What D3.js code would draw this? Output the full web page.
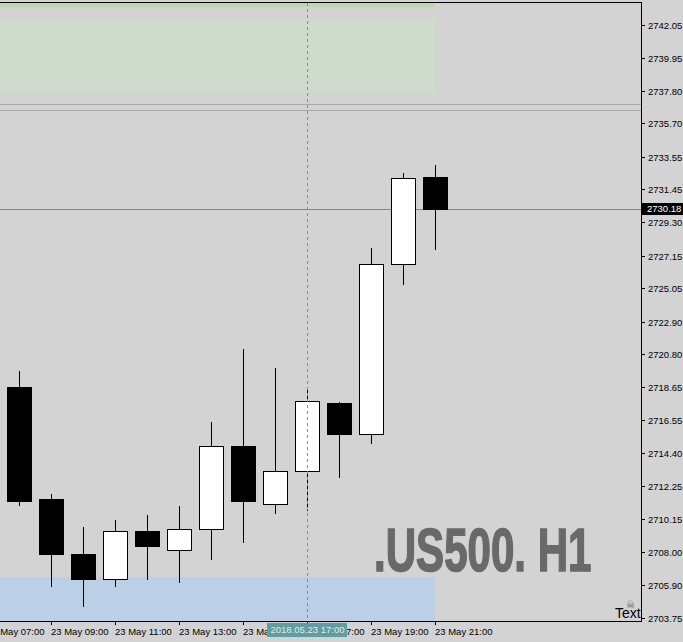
<!DOCTYPE html>
<html><head><meta charset="utf-8">
<script src="https://cdn.jsdelivr.net/npm/d3@7"></script>
<style>html,body{margin:0;padding:0;background:#d3d3d3;overflow:hidden}</style>
</head><body>
<svg id="c" width="683" height="642"></svg>
<script>
// ---- data ----
const barTimes = ["08:00","09:00","10:00","11:00","12:00","13:00","14:00","15:00","16:00","17:00","18:00","19:00","20:00","21:00"];
const opens  = [2718.67,2711.44,2707.88,2706.29,2709.37,2708.12,2709.48,2714.86,2711.09,2713.22,2717.64,2715.65,2726.59,2732.21];
const highs  = [2719.70,2711.76,2709.63,2710.08,2710.40,2710.98,2716.41,2721.12,2719.90,2718.52,2717.70,2727.65,2732.49,2733.01];
const lows   = [2711.07,2705.84,2704.54,2705.84,2706.29,2706.09,2707.58,2708.68,2710.55,2710.71,2712.84,2715.07,2725.32,2727.60];
const closes = [2711.31,2707.90,2706.29,2709.35,2708.42,2709.48,2714.84,2711.33,2713.22,2717.75,2715.65,2726.61,2732.15,2730.18];

const priceTicks = [2742.05,2739.95,2737.80,2735.70,2733.55,2731.45,2729.30,2727.15,2725.05,2722.90,2720.80,2718.65,2716.55,2714.40,2712.25,2710.15,2708.00,2705.90,2703.75];
const timeTicks = ["07:00","09:00","11:00","13:00","15:00","17:00","19:00","21:00"];
const dayLabel = "23 May";

const currentPrice = 2730.18;
const crosshairTime = "17:00";
const crosshairLabel = "2018.05.23 17:00";

const zoneStart = ["06:00","06:00","06:00"];
const zoneEnd   = ["21:00","21:00","21:00"];
const zoneLow   = [2743.21, 2737.64, 2700.00];
const zoneHigh  = [2746.00, 2742.42, 2706.40];
const zoneColor = ["#b7d9ad", "#cfdbcc", "#bbcfe7"];

const levelLines = [2736.95, 2736.56];
const symbolText = ".US500. H1";
const cornerText = "Text";

// ---- layout ----
const svg = d3.select("#c");
const plotL = 0, plotR = 641, plotT = 3, plotB = 621;
const tp = d3.timeParse("%Y-%m-%d %H:%M");
const T = s => tp("2018-05-23 " + s);

const x = d3.scaleTime().domain([T("08:00"), T("21:00")]).range([19, 435]);
const y = d3.scaleLinear().domain([2703.75, 2742.05]).range([618, 25]);
const ry = v => Math.round(y(v));

svg.append("rect").attr("width",683).attr("height",642).attr("fill","#d3d3d3");

svg.append("defs").append("clipPath").attr("id","clip")
  .append("rect").attr("x",plotL).attr("y",plotT).attr("width",plotR-plotL).attr("height",plotB-plotT);

const plot = svg.append("g").attr("clip-path","url(#clip)");

// zones
zoneLow.forEach((lo,i)=>{
  const x0 = Math.min(x(T(zoneStart[i])), plotL), x1 = x(T(zoneEnd[i]));
  plot.append("rect").attr("x",x0).attr("width",x1-x0)
    .attr("y",ry(zoneHigh[i])).attr("height",ry(lo)-ry(zoneHigh[i]))
    .attr("fill",zoneColor[i]);
});

// level lines
levelLines.forEach(v=>{
  plot.append("line").attr("x1",plotL).attr("x2",plotR)
    .attr("y1",ry(v)+0.5).attr("y2",ry(v)+0.5)
    .attr("stroke","#a9a9a9").attr("stroke-width",1);
});

// big symbol text (condensed by horizontal scaling)
plot.append("text")
  .attr("transform","translate(374,571) scale(0.69,1)")
  .attr("font-family","'Liberation Sans Narrow','Liberation Sans','DejaVu Sans Condensed',sans-serif")
  .attr("font-weight","bold").attr("font-size",61)
  .attr("fill","#696969").attr("stroke","#696969").attr("stroke-width",1.6)
  .text(symbolText);

// current price line
plot.append("line").attr("x1",plotL).attr("x2",plotR)
  .attr("y1",ry(currentPrice)+0.5).attr("y2",ry(currentPrice)+0.5)
  .attr("stroke","#7189a3").attr("stroke-width",1);

// candles
const candles = plot.append("g");
barTimes.forEach((t,i)=>{
  const cx = Math.round(x(T(t)));
  const up = closes[i] >= opens[i];
  candles.append("line").attr("x1",cx+0.5).attr("x2",cx+0.5)
    .attr("y1",ry(highs[i])).attr("y2",ry(lows[i])+1)
    .attr("stroke","#000").attr("stroke-width",1);
  const top = ry(Math.max(opens[i],closes[i])), bot = ry(Math.min(opens[i],closes[i]));
  candles.append("rect").attr("x",cx-12+0.5).attr("width",24)
    .attr("y",top+0.5).attr("height",Math.max(bot-top,1))
    .attr("fill", up ? "#ffffff" : "#000000")
    .attr("stroke","#000").attr("stroke-width",1);
});

// crosshair
const chx = Math.round(x(T(crosshairTime)))+0.5;
plot.append("line").attr("x1",chx).attr("x2",chx).attr("y1",plotT).attr("y2",plotB)
  .attr("stroke","#5f9ea0").attr("stroke-width",1).attr("stroke-dasharray","3,3");

// corner text + icon
plot.append("text").attr("x",615).attr("y",618)
  .attr("font-family","'Liberation Sans',Arial,sans-serif").attr("font-size",14)
  .attr("fill","#000").text(cornerText);
plot.append("text").attr("x",630.5).attr("y",608).attr("text-anchor","middle")
  .attr("font-family","'DejaVu Sans',sans-serif").attr("font-size",10)
  .attr("fill","#606060").text("\u2620");

// frame
svg.append("line").attr("x1",plotL).attr("x2",plotR+1).attr("y1",2.5).attr("y2",2.5).attr("stroke","#000");
svg.append("line").attr("x1",plotL).attr("x2",plotR+1).attr("y1",plotB+0.5).attr("y2",plotB+0.5).attr("stroke","#000");
svg.append("line").attr("x1",plotR+0.5).attr("x2",plotR+0.5).attr("y1",2).attr("y2",plotB+1).attr("stroke","#000");

// y axis
const fontAx = "'Liberation Sans',Arial,sans-serif";
const yAxis = svg.append("g").attr("transform",`translate(${plotR+1},0)`)
  .call(d3.axisRight(y).tickValues(priceTicks).tickFormat(d3.format(".2f")).tickSize(3).tickPadding(3));
yAxis.select(".domain").remove();
yAxis.selectAll(".tick").attr("transform",d=>`translate(0,${ry(d)+0.5})`);
yAxis.selectAll("text").attr("font-family",fontAx).attr("font-size",9.5).attr("fill","#000");
yAxis.selectAll("line").attr("stroke","#000");

// current price tag
const cpy = ry(currentPrice);
svg.append("rect").attr("x",plotR+1).attr("y",cpy-6).attr("width",42).attr("height",12).attr("fill","#000");
svg.append("text").attr("x",plotR+6).attr("y",cpy).attr("dy","0.35em")
  .attr("font-family",fontAx).attr("font-size",9.5).attr("fill","#fff")
  .text(d3.format(".2f")(currentPrice));

// x axis
const xAxis = svg.append("g").attr("transform",`translate(0,${plotB+1})`)
  .call(d3.axisBottom(x).tickValues(timeTicks.map(T)).tickFormat(d=>dayLabel+" "+d3.timeFormat("%H:%M")(d)).tickSize(3).tickPadding(3));
xAxis.select(".domain").remove();
xAxis.selectAll(".tick").attr("transform",d=>`translate(${Math.round(x(d))+0.5},0)`);
xAxis.selectAll("text").attr("text-anchor","start").attr("x",-0.5)
  .attr("font-family",fontAx).attr("font-size",9.5).attr("fill","#000");
xAxis.selectAll("line").attr("stroke","#000");

// crosshair time tag
svg.append("rect").attr("x",chx-40.5).attr("y",623).attr("width",80).attr("height",14).attr("fill","#5f9ea0");
svg.append("text").attr("x",chx).attr("y",630).attr("dy","0.35em").attr("text-anchor","middle")
  .attr("font-family",fontAx).attr("font-size",9.5).attr("fill","#e8e8e8").text(crosshairLabel);
</script>
</body></html>
